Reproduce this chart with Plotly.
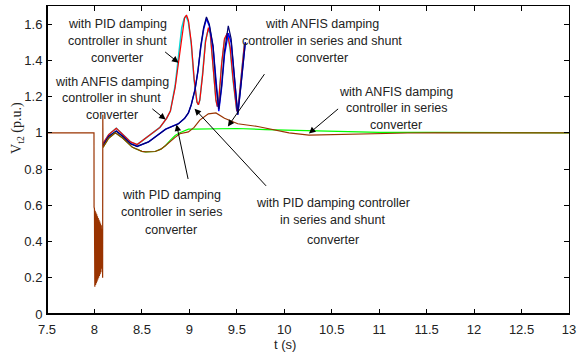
import plotly.graph_objects as go

# ---------------- data ----------------
# common part: steady state + fault (dense oscillation) 7.5 .. 8.088 s
t_fault = [7.5, 7.995, 7.996, 8.000, 8.004, 8.008, 8.012, 8.016, 8.020, 8.024, 8.028,
           8.032, 8.036, 8.040, 8.044, 8.048, 8.052, 8.056, 8.060, 8.064, 8.068,
           8.072, 8.076, 8.080, 8.084, 8.086, 8.088]
v_fault = [1.0, 1.0, 0.59, 0.58, 0.15, 0.57, 0.16, 0.56, 0.17, 0.55, 0.18,
           0.54, 0.19, 0.53, 0.20, 0.52, 0.21, 0.51, 0.22, 0.50, 0.23,
           0.49, 0.25, 0.47, 0.27, 0.20, 1.10]

# PID damping controller in shunt converter (red)
t_pid_sh = [8.09, 8.15, 8.23, 8.30, 8.38, 8.45, 8.57, 8.69, 8.76, 8.80, 8.85, 8.885,
            8.93, 8.95, 8.97, 8.99, 9.02, 9.05, 9.08, 9.095, 9.11, 9.14, 9.17, 9.20,
            9.22, 9.25, 9.28, 9.295, 9.31, 9.34, 9.37, 9.40, 9.43, 9.46, 9.49, 9.50,
            9.52, 9.55, 9.58]
v_pid_sh = [0.94, 0.99, 1.025, 0.99, 0.95, 0.935, 0.98, 1.03, 1.08, 1.12, 1.25, 1.39,
            1.58, 1.635, 1.65, 1.62, 1.50, 1.30, 1.17, 1.155, 1.18, 1.32, 1.50, 1.58,
            1.55, 1.38, 1.18, 1.145, 1.18, 1.38, 1.52, 1.55, 1.47, 1.30, 1.14, 1.12,
            1.17, 1.35, 1.49]

# ANFIS damping controller in shunt converter (cyan, under red)
t_anfis_sh = [8.09, 8.15, 8.23, 8.30, 8.38, 8.45, 8.57, 8.69, 8.76, 8.80, 8.85, 8.88,
              8.92, 8.945, 8.965, 8.99, 9.02, 9.05, 9.08, 9.095, 9.11, 9.14, 9.17, 9.20,
              9.22, 9.25, 9.28, 9.295, 9.31, 9.34, 9.37, 9.40, 9.43, 9.46, 9.49, 9.50,
              9.52, 9.55, 9.58]
v_anfis_sh = [0.94, 0.99, 1.025, 0.99, 0.95, 0.935, 0.98, 1.03, 1.08, 1.12, 1.26, 1.40,
              1.58, 1.63, 1.645, 1.61, 1.49, 1.29, 1.17, 1.155, 1.18, 1.33, 1.51, 1.57,
              1.55, 1.37, 1.18, 1.145, 1.18, 1.38, 1.51, 1.55, 1.46, 1.29, 1.14, 1.12,
              1.17, 1.35, 1.49]

# PID damping controller in series and shunt converter (blue)
t_pid_ss = [8.09, 8.15, 8.23, 8.30, 8.38, 8.45, 8.57, 8.65, 8.75, 8.885, 8.95, 8.99,
            9.02, 9.06, 9.09, 9.12, 9.15, 9.18, 9.21, 9.25, 9.28, 9.31, 9.34, 9.37,
            9.41, 9.44, 9.47, 9.51, 9.545, 9.59]
v_pid_ss = [0.93, 0.98, 1.01, 0.98, 0.94, 0.925, 0.95, 0.98, 1.02, 1.05, 1.08, 1.11,
            1.155, 1.24, 1.34, 1.47, 1.57, 1.63, 1.59, 1.47, 1.27, 1.12, 1.25, 1.43,
            1.55, 1.50, 1.33, 1.10, 1.27, 1.50]

# PID damping controller in series converter (navy)
t_pid_se = [8.09, 8.15, 8.23, 8.30, 8.38, 8.45, 8.57, 8.65, 8.75, 8.885, 8.95, 8.99,
            9.02, 9.06, 9.09, 9.12, 9.15, 9.18, 9.21, 9.25, 9.28, 9.31, 9.34, 9.37,
            9.41, 9.44, 9.47, 9.51, 9.545, 9.59]
v_pid_se = [0.93, 0.98, 1.01, 0.98, 0.94, 0.925, 0.95, 0.98, 1.02, 1.05, 1.08, 1.11,
            1.155, 1.24, 1.34, 1.48, 1.58, 1.64, 1.60, 1.48, 1.27, 1.13, 1.26, 1.45,
            1.59, 1.52, 1.34, 1.10, 1.27, 1.50]

# ANFIS damping controller in series converter (green)
t_anfis_se = [8.09, 8.15, 8.22, 8.30, 8.40, 8.50, 8.54, 8.64, 8.70, 8.75, 8.80, 8.85,
              8.90, 8.99, 9.05, 9.20, 9.50, 9.80, 10.20, 10.55, 11.00, 11.50, 11.85,
              11.90, 13.00]
v_anfis_se = [0.92, 0.97, 1.00, 0.97, 0.92, 0.898, 0.895, 0.897, 0.91, 0.93, 0.96, 0.985,
              1.00, 1.02, 1.02, 1.022, 1.024, 1.018, 1.012, 1.007, 1.003, 1.002, 1.002,
              1.0, 1.0]

# ANFIS damping controller in series and shunt converter (brown)
t_anfis_ss = [8.09, 8.15, 8.22, 8.30, 8.40, 8.50, 8.54, 8.64, 8.70, 8.75, 8.80, 8.85,
              8.90, 8.99, 9.05, 9.11, 9.20, 9.28, 9.37, 9.51, 9.72, 9.86, 10.05, 10.26,
              10.50, 10.90, 11.30, 11.60, 13.00]
v_anfis_ss = [0.92, 0.97, 1.00, 0.97, 0.92, 0.898, 0.895, 0.897, 0.91, 0.93, 0.955, 0.975,
              0.995, 1.005, 1.03, 1.07, 1.105, 1.11, 1.08, 1.05, 1.035, 1.02, 1.0, 0.987,
              0.99, 0.996, 0.999, 1.0, 1.0]

x_ticks = [7.5, 8, 8.5, 9, 9.5, 10, 10.5, 11, 11.5, 12, 12.5, 13]
x_tick_text = ["7.5", "8", "8.5", "9", "9.5", "10", "10.5", "11", "11.5", "12", "12.5", "13"]
y_ticks = [0, 0.2, 0.4, 0.6, 0.8, 1.0, 1.2, 1.4, 1.6]
y_tick_text = ["0", "0.2", "0.4", "0.6", "0.8", "1", "1.2", "1.4", "1.6"]

# ---------------- figure ----------------
SANS = "Liberation Sans, Arial, sans-serif"
SERIF = "Liberation Serif, Times New Roman, serif"
TXT = "#222222"

series = [
    ("ANFIS shunt", t_anfis_sh, v_anfis_sh, "#00d8d8", 1.5, False),
    ("PID shunt", t_pid_sh, v_pid_sh, "#ff0000", 1.2, False),
    ("PID series and shunt", t_pid_ss, v_pid_ss, "#0000ff", 1.4, False),
    ("PID series", t_pid_se, v_pid_se, "#000070", 1.2, False),
    ("ANFIS series", t_anfis_se, v_anfis_se, "#00ff00", 1.2, False),
    ("ANFIS series and shunt", t_anfis_ss, v_anfis_ss, "#993300", 1.2, True),
]

fig = go.Figure()
for name, t, v, col, w, with_fault in series:
    xs = (t_fault + t) if with_fault else t
    ys = (v_fault + v) if with_fault else v
    fig.add_trace(go.Scatter(x=xs, y=ys, mode="lines", name=name,
                             line=dict(color=col, width=w), showlegend=False,
                             hoverinfo="skip"))

# labels: one annotation per text line (center x, line y in data units)
labels = [
    (8.24, [1.6, 1.507, 1.414], ["with PID damping", "controller in shunt", "converter"]),
    (8.18, [1.283, 1.19, 1.097], ["with ANFIS damping", "controller in shunt", "converter"]),
    (10.40, [1.6, 1.507, 1.414], ["with ANFIS damping", "controller in series and shunt", "converter"]),
    (11.18, [1.228, 1.135, 1.042], ["with ANFIS damping", "controller in series", "converter"]),
    (8.81, [0.655, 0.562, 0.465], ["with PID damping", "controller in series", "converter"]),
    (10.51, [0.61, 0.518, 0.408], ["with PID damping controller", "in series and shunt", "converter"]),
]
for xc, ys, lines in labels:
    for yy, txt in zip(ys, lines):
        fig.add_annotation(x=xc, y=yy, xref="x", yref="y", text=txt, showarrow=False,
                           font=dict(family=SANS, size=12.5, color=TXT),
                           xanchor="center", yanchor="middle")

# arrows: (head t, head v, tail t, tail v)
arrows = [
    (8.885, 1.387, 8.729, 1.453),
    (8.75, 1.073, 8.594, 1.139),
    (9.406, 1.035, 9.802, 1.332),
    (10.26, 0.996, 10.583, 1.139),
    (8.865, 1.046, 8.99, 0.737),
    (9.055, 1.133, 9.823, 0.699),
]
for hx, hy, tx, ty in arrows:
    fig.add_annotation(x=hx, y=hy, ax=tx, ay=ty, xref="x", yref="y", axref="x", ayref="y",
                       text="", showarrow=True, arrowhead=2, arrowsize=1.3,
                       arrowwidth=1, arrowcolor="black")

W, H = 581, 359
L, R, T, B = 47, 6, 5, 45
pw, ph = W - L - R, H - T - B

def px_to_paper(px, py):
    return (px - L) / pw, (H - B - py) / ph

# axis titles
yx, yy_ = px_to_paper(17, 127)
fig.add_annotation(x=yx, y=yy_, xref="paper", yref="paper", text="V<sub>t2</sub> (p.u.)",
                   showarrow=False, textangle=-90, xanchor="center", yanchor="middle",
                   font=dict(family=SERIF, size=14, color=TXT))
tx_, ty_ = px_to_paper(288, 345)
fig.add_annotation(x=tx_, y=ty_, xref="paper", yref="paper", text="t (s)", showarrow=False,
                   xanchor="center", yanchor="middle",
                   font=dict(family=SANS, size=13, color=TXT))

axis_common = dict(showgrid=False, zeroline=False, showline=True, linecolor="black",
                   linewidth=1, mirror="ticks", ticks="inside", ticklen=5,
                   tickcolor="black", tickwidth=1,
                   tickfont=dict(family=SANS, size=13, color=TXT))

fig.update_layout(
    width=W, height=H, margin=dict(l=L, r=R, t=T, b=B),
    paper_bgcolor="white", plot_bgcolor="white",
    xaxis=dict(range=[7.5, 13], tickvals=x_ticks, ticktext=x_tick_text,
               ticklabelstandoff=3, ticklabeloverflow="allow", **axis_common),
    yaxis=dict(range=[0, 1.7], tickvals=y_ticks, ticktext=y_tick_text,
               ticklabelstandoff=1, **axis_common),
    shapes=[
        dict(type="line", xref="paper", yref="paper", x0=0, x1=0, y0=0, y1=1,
             line=dict(color="black", width=2)),
        dict(type="line", xref="paper", yref="paper", x0=0, x1=1, y0=0, y1=0,
             line=dict(color="black", width=2)),
    ],
)

fig.write_html("out.html")
